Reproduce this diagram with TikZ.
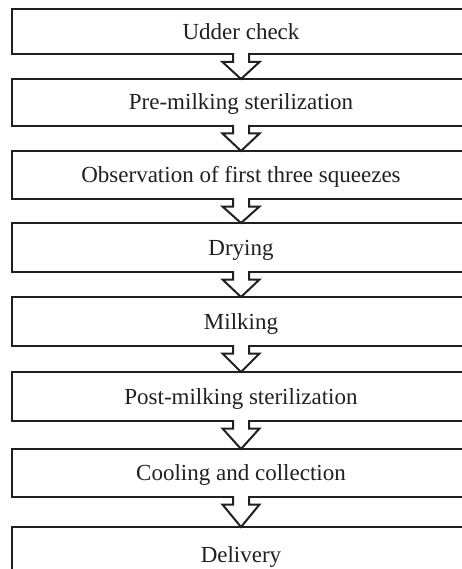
\documentclass[tikz,border=0pt]{standalone}
\usepackage{fontspec}
\setmainfont{Liberation Serif}
\definecolor{ink}{HTML}{231F20}
\tikzset{
  stage/.style={draw=ink, line width=2pt, rectangle, minimum width=458pt,
    inner sep=0pt, outer sep=0pt, text=ink, text height=15pt, text depth=0pt,
    font=\fontsize{23}{26}\selectfont},
  flowline/.style={draw=ink, line width=2pt, line join=miter},
}
% hollow block arrow that opens into the bottom edge of box #1 and points at box #2
\newcommand\stagearrow[2]{%
  \fill[white] ([xshift=-7pt,yshift=1.6pt]#1.south) rectangle ([xshift=7pt,yshift=-1.6pt]#1.south);
  \draw[flowline] ([xshift=-8pt,yshift=1pt]#1.south) -- ([xshift=-8pt,yshift=-7.5pt]#1.south)
    -- ([xshift=-18.5pt,yshift=-7.5pt]#1.south) -- (#2.north)
    -- ([xshift=18.5pt,yshift=-7.5pt]#1.south) -- ([xshift=8pt,yshift=-7.5pt]#1.south)
    -- ([xshift=8pt,yshift=1pt]#1.south);
}
\begin{document}
\begin{tikzpicture}[x=1pt,y=-1pt]
  \useasboundingbox (0,0) rectangle (462,569);
  \clip (0,0) rectangle (462,569);
  \fill[white] (0,0) rectangle (462,569);
  \node[stage, minimum height=45.5pt] (s1) at (241,31.75) {Udder check};
  \node[stage, minimum height=47pt]   (s2) at (241,102.5) {Pre-milking sterilization};
  \node[stage, minimum height=48pt]   (s3) at (241,175)   {Observation of first three squeezes};
  \node[stage, minimum height=49pt]   (s4) at (241,247.5) {Drying};
  \node[stage, minimum height=49pt]   (s5) at (241,321.5) {Milking};
  \node[stage, minimum height=49pt]   (s6) at (241,396.5) {Post-milking sterilization};
  \node[stage, minimum height=48pt]   (s7) at (241,473)   {Cooling and collection};
  \node[stage, minimum height=55pt]   (s8) at (241,554.5) {Delivery};
  \stagearrow{s1}{s2}
  \stagearrow{s2}{s3}
  \stagearrow{s3}{s4}
  \stagearrow{s4}{s5}
  \stagearrow{s5}{s6}
  \stagearrow{s6}{s7}
  \stagearrow{s7}{s8}
\end{tikzpicture}
\end{document}
